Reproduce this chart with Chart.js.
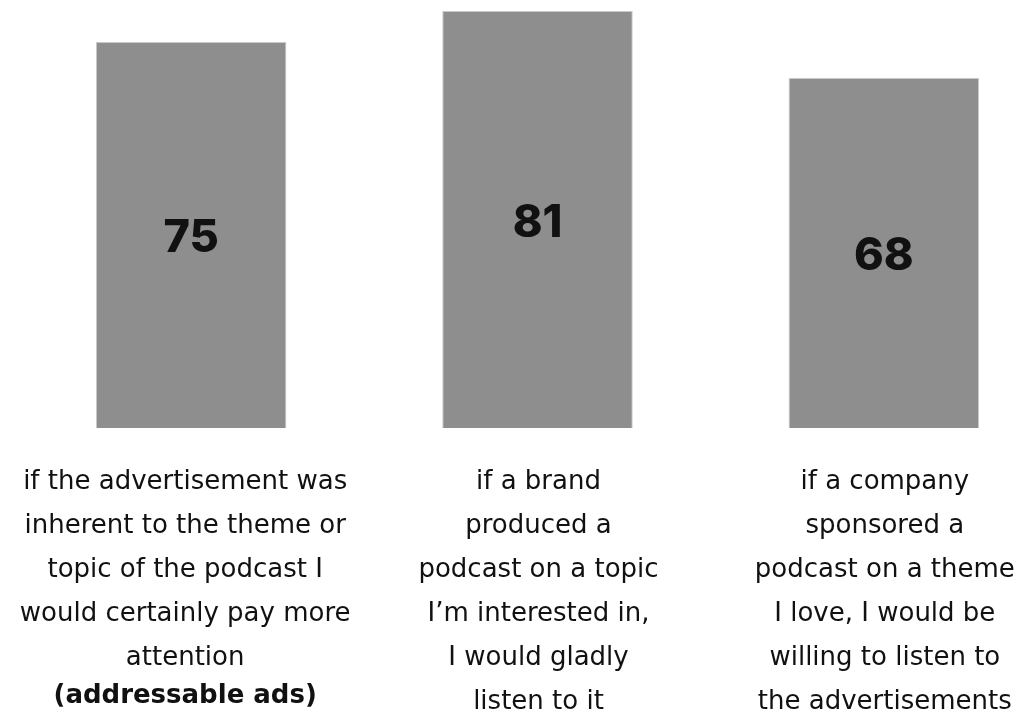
<!DOCTYPE html>
<html>
<head>
<meta charset="utf-8">
<script src="https://cdn.jsdelivr.net/npm/chart.js@4"></script>
<style>
  html, body { margin: 0; padding: 0; background: #fff; overflow: hidden; }
  #wrap { width: 1060px; height: 710px; }
</style>
</head>
<body>
<div id="wrap"><canvas id="chart" width="1060" height="710"></canvas></div>
<script>
// --- DATA ---
const categories = [
  ['if the advertisement was', 'inherent to the theme or', 'topic of the podcast I', 'would certainly pay more', 'attention'],
  ['if a brand', 'produced a', 'podcast on a topic', 'I\u2019m interested in,', 'I would gladly', 'listen to it'],
  ['if a company', 'sponsored a', 'podcast on a theme', 'I love, I would be', 'willing to listen to', 'the advertisements']
];
const notes = ['(addressable ads)', '', ''];
const values = [75, 81, 68];

const labelFont = '"DejaVu Sans", sans-serif';

// draws the number inside each bar
const valueLabels = {
  id: 'valueLabels',
  afterDatasetsDraw(chart) {
    const ctx = chart.ctx;
    const meta = chart.getDatasetMeta(0);
    ctx.save();
    ctx.fillStyle = '#111';
    ctx.font = '800 45px Inter, sans-serif';
    ctx.textAlign = 'center';
    ctx.textBaseline = 'middle';
    meta.data.forEach((bar, i) => {
      const mid = (bar.y + bar.base) / 2 + 4;
      ctx.fillText(values[i], bar.x, mid);
    });
    ctx.restore();
  }
};

// draws the category text under the bars
const categoryLabels = {
  id: 'categoryLabels',
  afterDraw(chart) {
    const ctx = chart.ctx;
    const x = chart.scales.x;
    const top = chart.chartArea.bottom + 61;
    const lineH = 44;
    ctx.save();
    ctx.fillStyle = '#111';
    ctx.textAlign = 'center';
    ctx.textBaseline = 'alphabetic';
    categories.forEach((lines, i) => {
      const cx = x.getPixelForValue(i) + (i === 0 ? -6 : 1);
      ctx.font = '26px ' + labelFont;
      lines.forEach((t, j) => ctx.fillText(t, cx, top + j * lineH));
      if (notes[i]) {
        ctx.font = 'bold 26px ' + labelFont;
        ctx.fillText(notes[i], cx, top + lines.length * lineH - 6);
      }
    });
    ctx.restore();
  }
};

const ctx = document.getElementById('chart').getContext('2d');
const myChart = new Chart(ctx, {
  type: 'bar',
  data: {
    labels: categories.map(c => c.join(' ')),
    datasets: [{
      data: values,
      backgroundColor: '#8e8e8e',
      borderColor: '#c9c9c9',
      borderWidth: 1,
      barPercentage: 0.55,
      categoryPercentage: 1
    }]
  },
  options: {
    responsive: false,
    animation: false,
    layout: { padding: { left: 18, right: 3, top: 11, bottom: 282 } },
    plugins: { legend: { display: false }, tooltip: { enabled: false } },
    scales: {
      x: { display: false },
      y: { display: false, min: 0, max: 81 }
    }
  },
  plugins: [valueLabels, categoryLabels]
});
</script>
</body>
</html>
